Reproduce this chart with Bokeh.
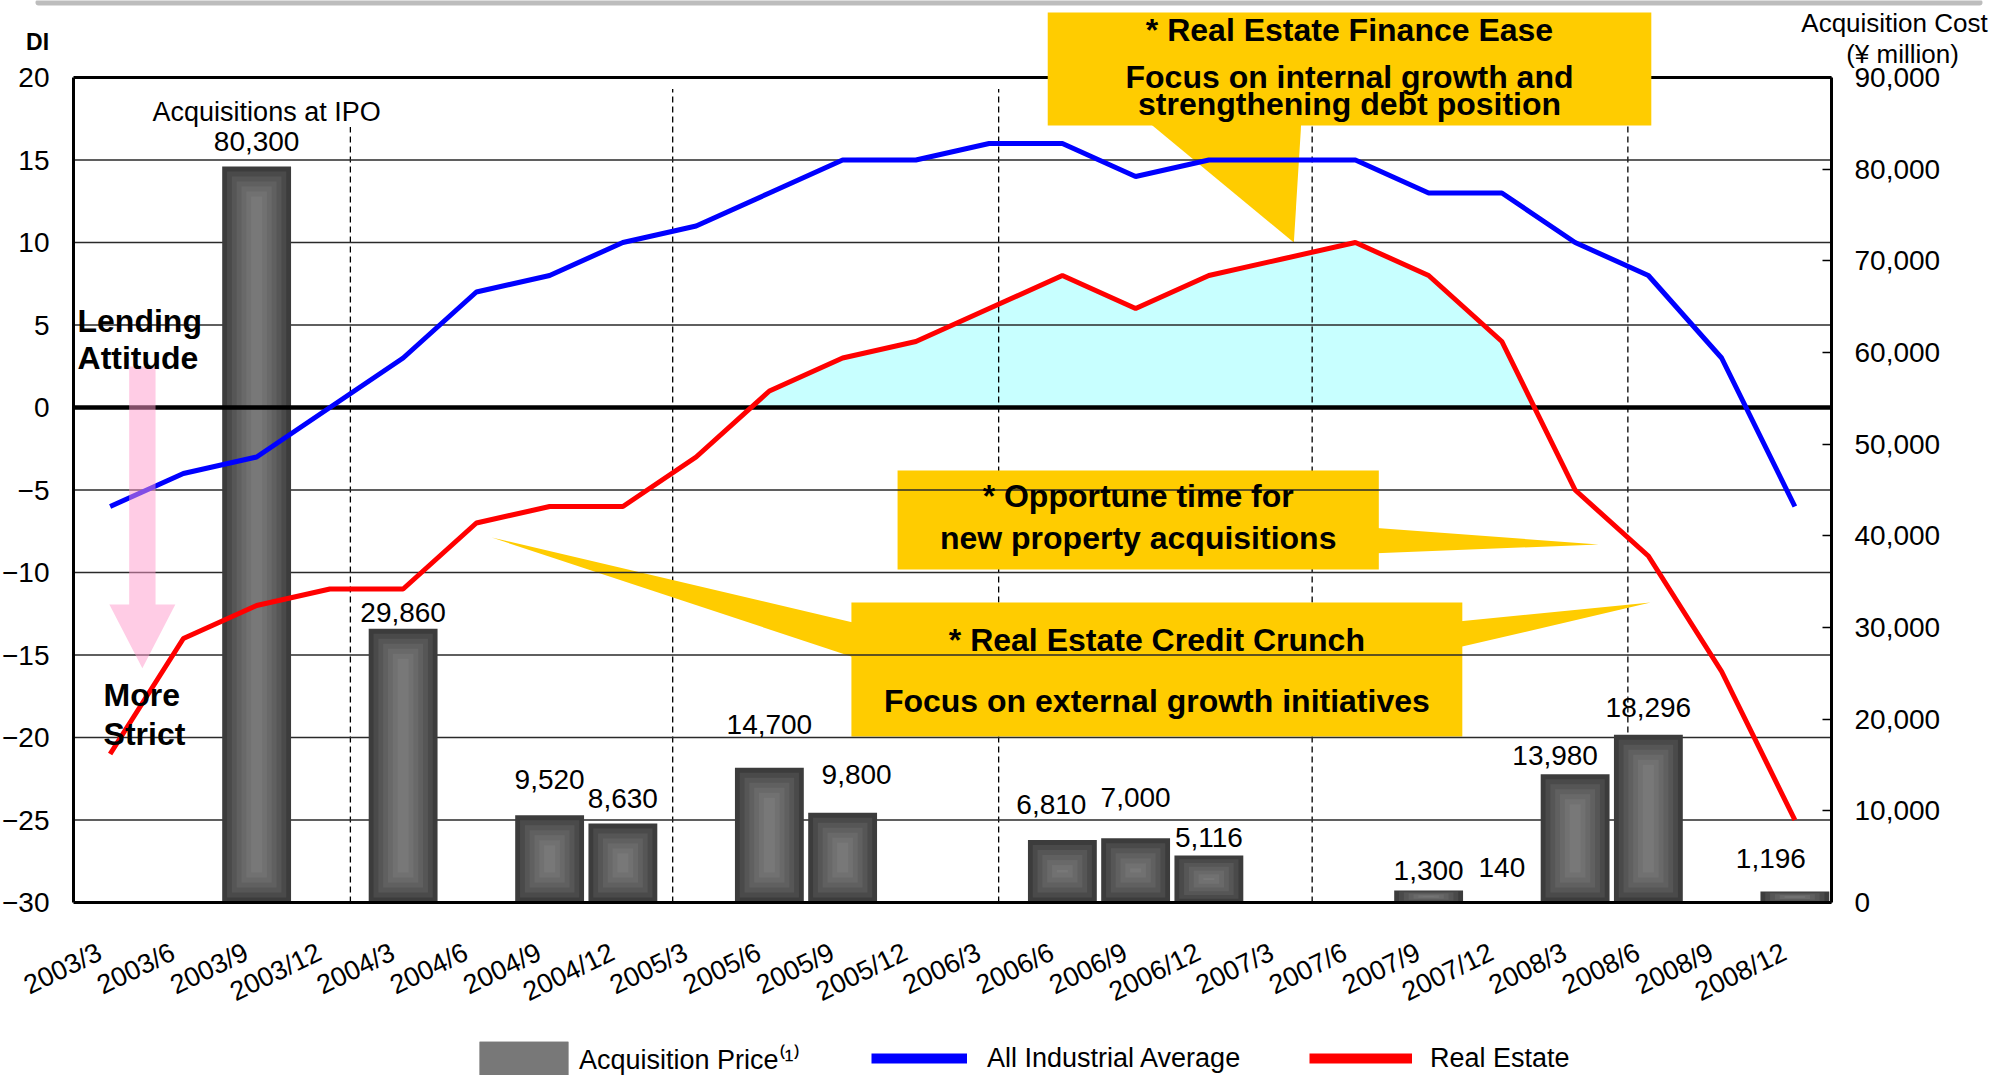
import math
from bokeh.plotting import figure
from bokeh.models import (Range1d, LinearAxis, FixedTicker, NumeralTickFormatter,
                          Label, Legend, LegendItem)
from bokeh.embed import file_html
from bokeh.resources import INLINE
from bokeh.core.properties import value

# ---------------- data ----------------
quarters = ["2003/3", "2003/6", "2003/9", "2003/12", "2004/3", "2004/6", "2004/9", "2004/12",
            "2005/3", "2005/6", "2005/9", "2005/12", "2006/3", "2006/6", "2006/9", "2006/12",
            "2007/3", "2007/6", "2007/9", "2007/12", "2008/3", "2008/6", "2008/9", "2008/12"]
all_industrial_di = [-6, -4, -3, 0, 3, 7, 8, 10, 11, 13, 15, 15, 16, 16, 14, 15, 15, 15, 13, 13, 10, 8, 3, -6]
real_estate_di = [-21, -14, -12, -11, -11, -7, -6, -6, -3, 1, 3, 4, 6, 8, 6, 8, 9, 10, 8, 4, -5, -9, -16, -25]
acquisition_cost = [None, None, 80300, None, 29860, None, 9520, 8630, None, 14700, 9800, None,
                    None, 6810, 7000, 5116, None, None, 1300, 140, 13980, 18296, None, 1196]
di_ticks = [-30, -25, -20, -15, -10, -5, 0, 5, 10, 15, 20]
cost_ticks = [0, 10000, 20000, 30000, 40000, 50000, 60000, 70000, 80000, 90000]
period_marks = [3.28, 7.68, 12.13, 16.41, 20.72]

# ---------------- layout constants ----------------
FONT = "Liberation Sans"
W, H = 2000, 1075
n = len(quarters)
PX_PER_X = 73.25                 # pixels per category
PX_PER_DI = 16.5                 # pixels per DI point
LEFT_PX, TOP_PX = 73, 77         # canvas position of plot-area left edge / DI=20 line
DI_MIN, DI_MAX = min(di_ticks), max(di_ticks)
X0, X1 = -0.5, n - 0.5
XS = X0 - LEFT_PX / PX_PER_X
XE = XS + W / PX_PER_X
YE = DI_MAX + TOP_PX / PX_PER_DI
YS = YE - H / PX_PER_DI
COST_PER_DI = max(cost_ticks) / (DI_MAX - DI_MIN)
CPP = COST_PER_DI / PX_PER_DI    # cost units per pixel
XPP = 1 / PX_PER_X
LABEL_SHIFT = -0.14              # x-label anchor shift (category units)
idx = list(range(n))

p = figure(width=W, height=H, x_range=Range1d(XS, XE), y_range=Range1d(YS, YE),
           output_backend="svg", toolbar_location=None, min_border=0)
p.extra_y_ranges = {"cost": Range1d((YS - DI_MIN) * COST_PER_DI, (YE - DI_MIN) * COST_PER_DI)}
p.outline_line_color = None
p.grid.visible = False

# left axis
ly = p.yaxis[0]
ly.fixed_location = X0
ly.bounds = (DI_MIN, DI_MAX)
ly.ticker = FixedTicker(ticks=di_ticks)
ly.axis_line_width = 3
ly.axis_line_color = "black"
ly.major_tick_line_color = None
ly.minor_tick_line_color = None
ly.major_label_standoff = 18
ly.major_label_text_font = FONT
ly.major_label_text_font_size = "28px"
ly.major_label_text_color = "black"

# bottom axis
tick_pos = [i + LABEL_SHIFT for i in idx]
bx_ax = p.xaxis[0]
bx_ax.fixed_location = DI_MIN
bx_ax.bounds = (X0, X1)
bx_ax.ticker = FixedTicker(ticks=tick_pos)
bx_ax.major_label_overrides = {t: q for t, q in zip(tick_pos, quarters)}
bx_ax.major_label_orientation = 0.454
bx_ax.axis_line_width = 3
bx_ax.axis_line_color = "black"
bx_ax.major_tick_line_color = None
bx_ax.minor_tick_line_color = None
bx_ax.major_label_standoff = 42
bx_ax.major_label_text_font = FONT
bx_ax.major_label_text_font_size = "27px"
bx_ax.major_label_text_color = "black"

# right axis
rax = LinearAxis(y_range_name="cost", ticker=FixedTicker(ticks=cost_ticks),
                 formatter=NumeralTickFormatter(format="0,0"))
rax.fixed_location = X1
rax.bounds = (min(cost_ticks), max(cost_ticks))
rax.axis_line_width = 3
rax.axis_line_color = "black"
rax.major_tick_in = 9
rax.major_tick_out = 0
rax.major_tick_line_width = 1.5
rax.major_tick_line_color = "black"
rax.minor_tick_line_color = None
rax.major_label_standoff = 23
rax.major_label_text_font = FONT
rax.major_label_text_font_size = "28px"
rax.major_label_text_color = "black"
p.add_layout(rax, "right")

# slide frame line at the very top
p.segment(x0=[XS + 38 * XPP], x1=[XS + 1979 * XPP], y0=[YE - 2 / PX_PER_DI], y1=[YE - 2 / PX_PER_DI],
          line_color="#BDBDBD", line_width=6, line_cap="round", level="image")

# ---------------- background layers ----------------
fx, fy = [], []
for i in range(n - 1):
    y0, y1 = real_estate_di[i], real_estate_di[i + 1]
    fx.append(i); fy.append(max(y0, 0))
    if y0 * y1 < 0:
        fx.append(i + (0 - y0) / (y1 - y0)); fy.append(0)
fx.append(n - 1); fy.append(max(real_estate_di[-1], 0))
p.varea(x=fx, y1=[0] * len(fx), y2=fy, fill_color="#C8FFFF", level="image")

p.segment(x0=period_marks, x1=period_marks, y0=[DI_MIN] * 5, y1=[17.0, 19.3, 19.3, 19.3, 19.3],
          line_color="black", line_width=1.3, line_dash="6 4", level="image")

# top border (partly covered by the callout)
p.segment(x0=[X0], x1=[X1], y0=[DI_MAX], y1=[DI_MAX], line_color="black", line_width=3, level="image")

YEL = "#FFCC00"
boxes = dict(left=[12.80, 10.75, 10.12], right=[21.04, 17.32, 18.46],
             top=[23.94, -3.82, -11.82], bottom=[17.09, -9.82, -19.94])
p.quad(**boxes, fill_color=YEL, line_color=None, level="image")
p.patches(xs=[[14.20, 16.26, 16.16], [17.2, 17.2, 20.32], [5.21, 10.2, 10.2], [18.4, 18.4, 21.03]],
          ys=[[17.2, 17.2, 10.0], [-7.27, -8.85, -8.30], [-7.88, -13.09, -15.21], [-12.97, -14.55, -11.82]],
          fill_color=YEL, line_color=None, level="image")

# horizontal grid lines (above the callouts, below the bars)
grid_ticks = [t for t in di_ticks if t not in (DI_MIN, 0, DI_MAX)]
p.segment(x0=[X0] * len(grid_ticks), x1=[X1] * len(grid_ticks), y0=grid_ticks, y1=grid_ticks,
          line_color="#2a2a2a", line_width=1.4)

# ---------------- bars ----------------
bx = [i for i, c in enumerate(acquisition_cost) if c is not None]
bc = [c for c in acquisition_cost if c is not None]
BW = 0.94
bar_renderers = [p.vbar(x=bx, top=bc, bottom=0, width=BW, fill_color="#3c3c3c", line_color=None,
                        y_range_name="cost")]
for k in range(1, 7):
    ins = [min(k * 5 * CPP, c * 0.08 * k) for c in bc]
    bar_renderers.append(p.vbar(x=bx, top=[c - d for c, d in zip(bc, ins)], bottom=ins,
                                width=BW * (1 - 0.14 * k), fill_color="#a8a8a8", fill_alpha=0.13,
                                line_color=None, y_range_name="cost"))

# zero line
p.segment(x0=[X0], x1=[X1], y0=[0], y1=[0], line_color="black", line_width=4.5)

p.line(idx, all_industrial_di, line_color="#0000FF", line_width=5)

p.patch(x=[0.26, 0.62, 0.62, 0.89, 0.44, -0.01, 0.26],
        y=[2.48, 2.48, -11.94, -11.94, -15.8, -11.94, -11.94],
        fill_color="#FF99CC", fill_alpha=0.5, line_color=None)

p.line(idx, real_estate_di, line_color="#FF0000", line_width=5)

# bar value labels
lab_dx = [0, 0, 0, 0, 0, 14, -11, 0, 0, 0, 0, -20, 0, -24]
lab_dy = [25, 16, 36, 25, 43, 38, 36, 41, 18, 20, 34, 19, 27, 33]
p.text(x=[x + d * XPP for x, d in zip(bx, lab_dx)],
       y=[c + d * CPP for c, d in zip(bc, lab_dy)],
       text=[f"{c:,}" for c in bc], y_range_name="cost",
       text_font=value(FONT), text_font_size="28px", text_align="center",
       text_baseline="middle", text_color="black")
ipo_i = acquisition_cost.index(max(bc))
p.add_layout(Label(x=ipo_i + 10 * XPP, y=max(bc) + (lab_dy[0] + 29) * CPP, y_range_name="cost",
                   text="Acquisitions at IPO", text_font=FONT, text_font_size="27px",
                   text_align="center", text_baseline="middle", text_color="black"))

def lab(x, y, t, size="32px", bold=True, align="center"):
    p.add_layout(Label(x=x, y=y, text=t, text_font=FONT, text_font_size=size,
                       text_font_style="bold" if bold else "normal",
                       text_align=align, text_baseline="middle", text_color="black"))

cx = [(l + r) / 2 for l, r in zip(boxes["left"], boxes["right"])]
lab(cx[0], 22.85, "* Real Estate Finance Ease")
lab(cx[0], 20.06, "Focus on internal growth and")
lab(cx[0], 18.42, "strengthening debt position")
lab(cx[1], -5.39, "* Opportune time for")
lab(cx[1], -7.88, "new property acquisitions")
lab(cx[2], -14.12, "* Real Estate Credit Crunch")
lab(cx[2], -17.76, "Focus on external growth initiatives")

lab(-0.445, 5.27, "Lending", align="left")
lab(-0.445, 2.97, "Attitude", align="left")
lab(-0.09, -17.4, "More", align="left")
lab(-0.09, -19.76, "Strict", align="left")

lab(-0.99, 22.18, "DI", size="23px")
lab(24.36, 23.33, "Acquisition Cost", size="26px", bold=False)
lab(24.47, 21.45, "(¥ million)", size="26px", bold=False)

# ---------------- legend ----------------
nan2 = [float("nan")] * 2
leg_blue = p.line(x=nan2, y=nan2, line_color="#0000FF", line_width=10)
leg_red = p.line(x=nan2, y=nan2, line_color="#FF0000", line_width=10)
for rs, text, x, gw, so in [(bar_renderers, "Acquisition Price⁽¹⁾", 468, 111, 0),
                            ([leg_blue], "All Industrial Average", 871, 96, 20),
                            ([leg_red], "Real Estate", 1309, 103, 18)]:
    p.add_layout(Legend(items=[LegendItem(label=text, renderers=rs)],
                        orientation="horizontal", location=(x, H - 1079),
                        label_text_font=FONT, label_text_font_size="27px", label_text_color="black",
                        glyph_width=gw, glyph_height=42, label_standoff=so,
                        border_line_color=None, background_fill_alpha=0, margin=0, padding=0),
                 "center")

open("out.html", "w").write(file_html(p, INLINE))
